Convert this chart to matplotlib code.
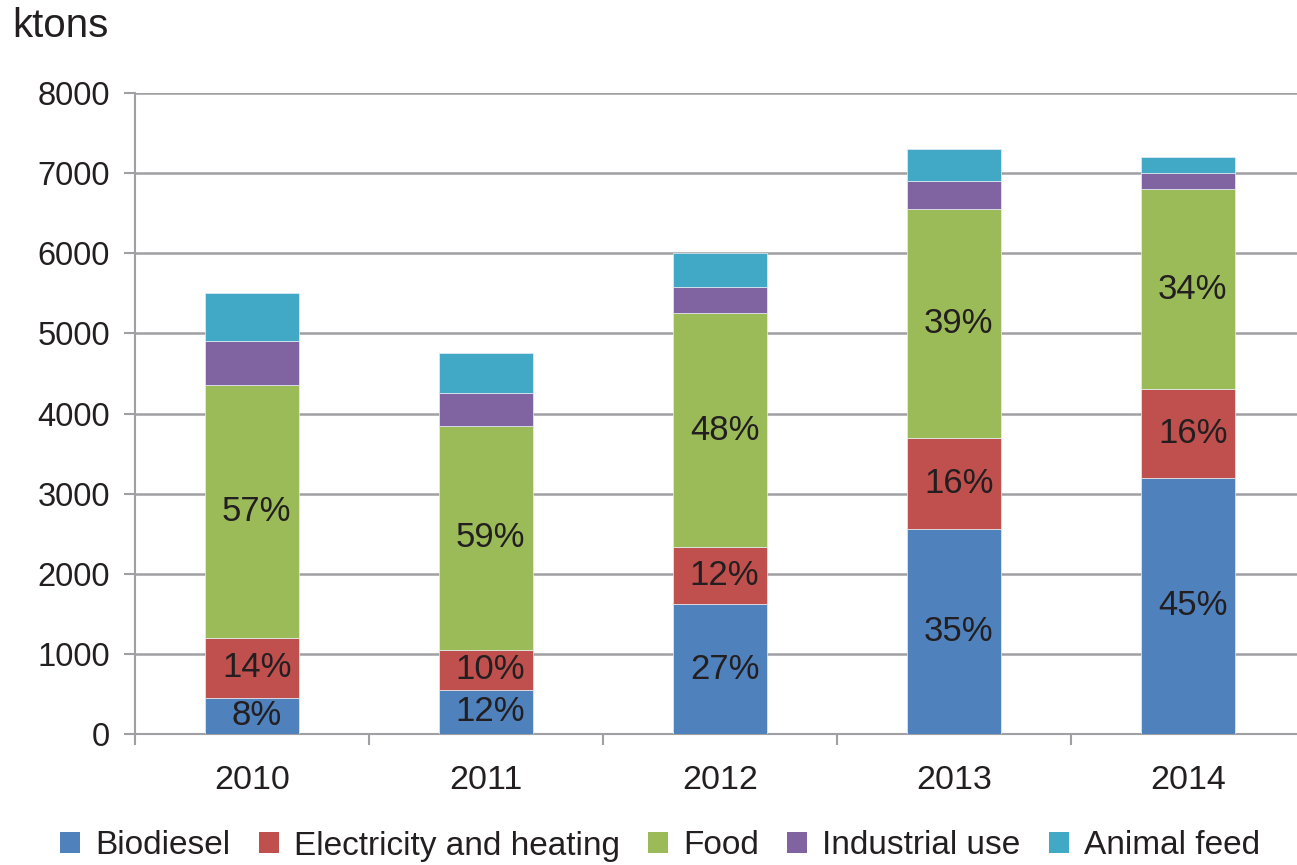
import matplotlib
matplotlib.use("Agg")
import matplotlib.pyplot as plt
import numpy as np
from matplotlib.patches import Patch

years = ["2010", "2011", "2012", "2013", "2014"]
series_names = ["Biodiesel", "Electricity and heating", "Food", "Industrial use", "Animal feed"]
biodiesel = [450, 550, 1620, 2560, 3200]
electricity = [750, 500, 710, 1140, 1100]
food = [3150, 2800, 2920, 2850, 2500]
industrial = [550, 400, 330, 350, 200]
animal_feed = [600, 500, 420, 400, 200]
labels_biodiesel = ["8%", "12%", "27%", "35%", "45%"]
labels_electricity = ["14%", "10%", "12%", "16%", "16%"]
labels_food = ["57%", "59%", "48%", "39%", "34%"]
colors = ["#4f81bd", "#c0504d", "#9bbb59", "#8064a2", "#41a9c6"]

plt.rcParams['font.family'] = ['Liberation Sans', 'DejaVu Sans']
W, H = 1297, 865
fig = plt.figure(figsize=(W / 100, H / 100), dpi=100)
ax = fig.add_axes([135 / W, (H - 734) / H, (W - 135) / W, (734 - 93) / H])

x = np.arange(len(years))
data = [biodiesel, electricity, food, industrial, animal_feed]
lbls = [labels_biodiesel, labels_electricity, labels_food, None, None]
bottom = np.zeros(len(years))
for vals, col, lb in zip(data, colors, lbls):
    ax.bar(x, vals, width=0.4, bottom=bottom, color=col, edgecolor="#e8eef5",
           linewidth=0.5, zorder=3)
    if lb is not None:
        for xi, b, v, t in zip(x, bottom, vals, lb):
            ax.text(xi + 0.02, b + v / 2, t, ha="center", va="center",
                    fontsize=25, color="#231f20", zorder=4)
    bottom = bottom + np.array(vals)

ax.set_yticks(np.arange(0, 8001, 1000))
ax.set_yticklabels([str(v) for v in range(0, 8001, 1000)], fontsize=23.5, color="#231f20")
ax.set_xticks(x)
ax.set_xticklabels(years, fontsize=24.5, color="#231f20")
ax.set_xticks(np.arange(-0.5, 4.0, 1.0), minor=True)
ax.set_ylim(0, 8000)
ax.set_xlim(-0.5, 4.466)
ax.tick_params(axis="x", which="major", length=0, pad=22)
ax.tick_params(axis="x", which="minor", length=8, width=1.5, color="#a0a0a4", direction="out")
ax.tick_params(axis="y", length=8, width=1.5, color="#a0a0a4", pad=10)
ax.grid(axis="y", color="#a0a0a4", linewidth=1.8, zorder=0)
for s in ["top", "right"]:
    ax.spines[s].set_visible(False)
for s in ["left", "bottom"]:
    ax.spines[s].set_color("#a0a0a4")
    ax.spines[s].set_linewidth(1.5)
ax.set_axisbelow(True)

fig.text(12 / W, 1 - 26 / H, "ktons", fontsize=29, color="#231f20", va="center", ha="left")

handles = [Patch(facecolor=c, edgecolor="none") for c in colors]
fig.legend(handles, series_names, loc="center", bbox_to_anchor=(660 / W, 1 - 846 / H),
           ncol=5, frameon=False, fontsize=24, handlelength=0.6, handleheight=0.6,
           handletextpad=0.45, columnspacing=0.85, labelcolor="#231f20")

fig.savefig("out.png", dpi=100)
